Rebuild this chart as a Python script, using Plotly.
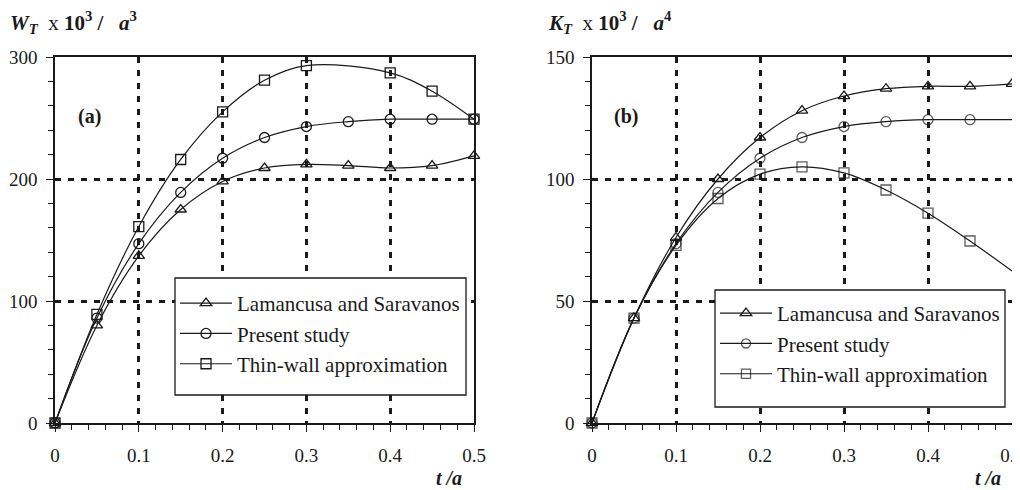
import plotly.graph_objects as go

# ---------------- data ----------------
t_vals = [0, 0.05, 0.1, 0.15, 0.2, 0.25, 0.3, 0.35, 0.4, 0.45, 0.5]
t_square_w = [0, 0.05, 0.1, 0.15, 0.2, 0.25, 0.3, 0.4, 0.45, 0.5]

w_lamancusa = [0, 80, 137, 175, 198, 209, 212, 211, 209, 211, 219]
w_present = [0, 86, 147, 189, 217, 234, 243, 247, 249, 249, 249]
w_thinwall = [0, 89, 161, 216, 255, 281, 293, 287, 272, 249]

k_lamancusa = [0, 43, 76, 100, 117, 128, 134, 137, 138, 138, 139]
k_present = [0, 43, 73.5, 94.5, 108.5, 117, 121.5, 123.5, 124.3, 124.3, 124.3]
k_thinwall = [0, 43, 72.8, 92, 102, 105, 102.5, 95.5, 86, 74.6, 62.3]

series_names = ["Lamancusa and Saravanos", "Present study", "Thin-wall approximation"]
x_ticks = [0, 0.1, 0.2, 0.3, 0.4, 0.5]
x_tick_text = ["0", "0.1", "0.2", "0.3", "0.4", "0.5"]
w_ticks = [0, 100, 200, 300]
k_ticks = [0, 50, 100, 150]

FONT = "Liberation Serif"
INK = "#1a1a1a"
symbols = ["triangle-up-open", "circle-open", "square-open"]

# page body has an 8px margin: the figure is drawn offset by (8, 8)
OFF = 8
W = 1020.0 - OFF
H = 490.0 - OFF

def px(x):
    return (x - OFF) / W

def py(y):
    return (H - (y - OFF)) / H

fig = go.Figure()

def add_series(x, y, name, sym, xa, ya, legend, sizes=None):
    fig.add_trace(go.Scatter(
        x=x, y=y, name=name, mode="lines+markers", xaxis=xa, yaxis=ya,
        line=dict(color=INK, width=1.2, shape="spline", smoothing=1.0),
        marker=dict(symbol=sym, size=sizes if sizes is not None else 10,
                    color=INK, line=dict(color=INK, width=1.3)),
        cliponaxis=False, legend=legend, showlegend=True,
    ))

add_series(t_vals, w_lamancusa, series_names[0], symbols[0], "x", "y", "legend")
add_series(t_vals, w_present, series_names[1], symbols[1], "x", "y", "legend")
add_series(t_square_w, w_thinwall, series_names[2], symbols[2], "x", "y", "legend")

n = len(t_vals)
no_last = [10] * (n - 1) + [0]
add_series(t_vals, k_lamancusa, series_names[0], symbols[0], "x2", "y2", "legend2")
add_series(t_vals, k_present, series_names[1], symbols[1], "x2", "y2", "legend2", no_last)
add_series(t_vals, k_thinwall, series_names[2], symbols[2], "x2", "y2", "legend2", no_last)

y_dom = [py(423), py(57)]
x_dom1 = [px(55), px(474)]
x_dom2 = [px(592), px(1012)]

def axis(**kw):
    base = dict(
        showline=True, linecolor=INK, linewidth=1.5, mirror=True, automargin=False,
        ticks="outside", ticklen=7, tickwidth=1.3, tickcolor=INK,
        showgrid=True, gridcolor=INK, gridwidth=3, griddash="6px,7px",
        zeroline=False, tickfont=dict(family=FONT, size=19, color=INK),
        ticklabeloverflow="allow",
    )
    base.update(kw)
    return base

xminor = dict(dtick=0.02, ticks="outside", ticklen=5, tickcolor=INK, tickwidth=1, showgrid=False)

legend_style = dict(
    font=dict(family=FONT, size=21, color=INK), bgcolor="rgba(0,0,0,0)",
    borderwidth=0, xanchor="left", yanchor="top", tracegroupgap=0, itemwidth=52,
)

box1 = (175, 278, 466, 395)
box2 = (715, 290, 1005, 407)

fig.update_layout(
    template="none",
    width=int(W), height=int(H),
    margin=dict(l=0, r=0, t=0, b=0, autoexpand=False),
    paper_bgcolor="white", plot_bgcolor="white",
    font=dict(family=FONT, color=INK),
    xaxis=axis(domain=x_dom1, anchor="y", range=[0, 0.5], tickvals=x_ticks,
               ticktext=x_tick_text, ticklabelstandoff=7, minor=xminor),
    yaxis=axis(domain=y_dom, anchor="x", range=[0, 300], tickvals=w_ticks,
               ticklabelstandoff=5,
               minor=dict(dtick=20, ticks="outside", ticklen=5, tickcolor=INK, tickwidth=1, showgrid=False)),
    xaxis2=axis(domain=x_dom2, anchor="y2", range=[0, 0.5], tickvals=x_ticks,
                ticktext=x_tick_text, ticklabelstandoff=7, minor=xminor),
    yaxis2=axis(domain=y_dom, anchor="x2", range=[0, 150], tickvals=k_ticks,
                ticklabelstandoff=5,
                minor=dict(dtick=10, ticks="outside", ticklen=5, tickcolor=INK, tickwidth=1, showgrid=False)),
    legend=dict(**legend_style, x=px(box1[0]), y=py(box1[1] + 5)),
    legend2=dict(**legend_style, x=px(box2[0]), y=py(box2[1] + 3)),
    shapes=[
        dict(type="rect", xref="paper", yref="paper", layer="above",
             x0=px(b[0]), x1=px(b[2]), y0=py(b[3]), y1=py(b[1]),
             line=dict(color=INK, width=1.3), fillcolor="white")
        for b in (box1, box2)
    ],
)

def ann(text, x, y, size=20, xanchor="left"):
    fig.add_annotation(text=text, x=px(x), y=py(y), xref="paper", yref="paper",
                       showarrow=False, xanchor=xanchor, yanchor="middle",
                       font=dict(family=FONT, size=size, color=INK))

ann("<b><i>W</i></b><sub><b><i>T</i></b></sub>&nbsp; x <b>10</b><sup><b>3</b></sup><b> /&nbsp;&nbsp; <i>a</i></b><sup><b>3</b></sup>", 8, 22, size=21)
ann("<b><i>K</i></b><sub><b><i>T</i></b></sub>&nbsp; x <b>10</b><sup><b>3</b></sup><b> /&nbsp;&nbsp; <i>a</i></b><sup><b>4</b></sup>", 546, 22, size=21)
ann("<b>(a)</b>", 76, 117, size=20)
ann("<b>(b)</b>", 612, 117, size=20)
ann("<b><i>t /a</i></b>", 449, 478, size=20, xanchor="center")
ann("<b><i>t /a</i></b>", 988, 478, size=20, xanchor="center")

fig.write_html("out.html")
